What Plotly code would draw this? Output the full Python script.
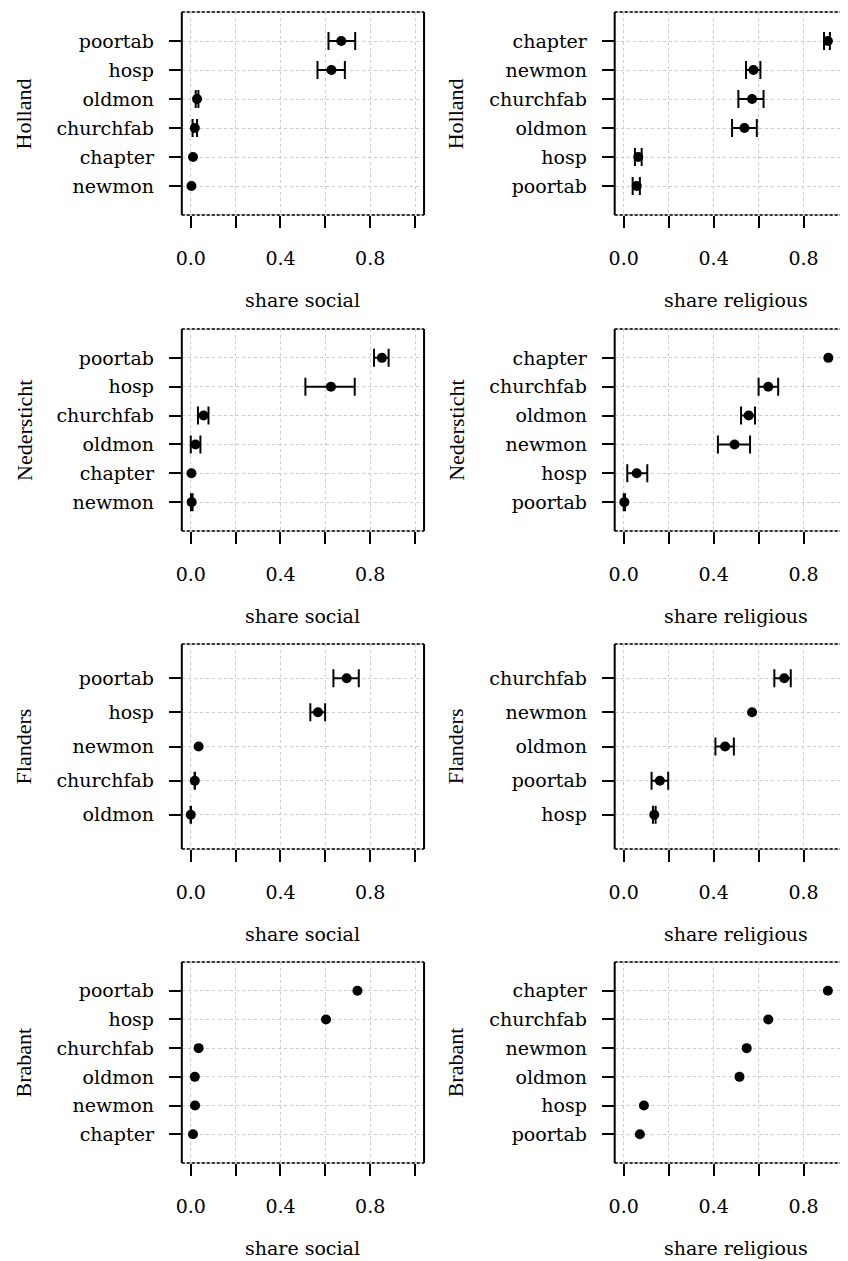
import plotly.graph_objects as go

# categories listed top to bottom, with point estimate and interval ends
# (lo == hi marks a point drawn without an interval)
holland_social_cats = ["poortab", "hosp", "oldmon", "churchfab", "chapter", "newmon"]
holland_social_share = [0.671, 0.627, 0.028, 0.018, 0.010, 0.003]
holland_social_lo = [0.614, 0.565, 0.022, 0.008, 0.010, 0.003]
holland_social_hi = [0.733, 0.687, 0.034, 0.028, 0.010, 0.003]

holland_relig_cats = ["chapter", "newmon", "churchfab", "oldmon", "hosp", "poortab"]
holland_relig_share = [0.908, 0.577, 0.571, 0.537, 0.065, 0.058]
holland_relig_lo = [0.891, 0.544, 0.510, 0.482, 0.050, 0.040]
holland_relig_hi = [0.917, 0.608, 0.622, 0.592, 0.080, 0.072]

nedersticht_social_cats = ["poortab", "hosp", "churchfab", "oldmon", "chapter", "newmon"]
nedersticht_social_share = [0.852, 0.625, 0.057, 0.021, 0.003, 0.004]
nedersticht_social_lo = [0.817, 0.511, 0.032, 0.000, 0.003, 0.001]
nedersticht_social_hi = [0.882, 0.731, 0.079, 0.043, 0.003, 0.008]

nedersticht_relig_cats = ["chapter", "churchfab", "oldmon", "newmon", "hosp", "poortab"]
nedersticht_relig_share = [0.910, 0.643, 0.556, 0.493, 0.058, 0.003]
nedersticht_relig_lo = [0.910, 0.600, 0.522, 0.419, 0.016, 0.000]
nedersticht_relig_hi = [0.910, 0.687, 0.584, 0.562, 0.105, 0.006]

flanders_social_cats = ["poortab", "hosp", "newmon", "churchfab", "oldmon"]
flanders_social_share = [0.695, 0.567, 0.035, 0.018, 0.000]
flanders_social_lo = [0.636, 0.533, 0.035, 0.017, -0.001]
flanders_social_hi = [0.749, 0.599, 0.035, 0.019, 0.001]

flanders_relig_cats = ["churchfab", "newmon", "oldmon", "poortab", "hosp"]
flanders_relig_share = [0.714, 0.571, 0.451, 0.161, 0.136]
flanders_relig_lo = [0.670, 0.571, 0.408, 0.124, 0.130]
flanders_relig_hi = [0.743, 0.571, 0.490, 0.198, 0.142]

brabant_social_cats = ["poortab", "hosp", "churchfab", "oldmon", "newmon", "chapter"]
brabant_social_share = [0.743, 0.603, 0.035, 0.018, 0.019, 0.010]
brabant_social_lo = [0.743, 0.603, 0.035, 0.018, 0.019, 0.010]
brabant_social_hi = [0.743, 0.603, 0.035, 0.018, 0.019, 0.010]

brabant_relig_cats = ["chapter", "churchfab", "newmon", "oldmon", "hosp", "poortab"]
brabant_relig_share = [0.908, 0.643, 0.547, 0.515, 0.090, 0.072]
brabant_relig_lo = [0.908, 0.643, 0.547, 0.515, 0.090, 0.072]
brabant_relig_hi = [0.908, 0.643, 0.547, 0.515, 0.090, 0.072]

regions = ["Holland", "Nedersticht", "Flanders", "Brabant"]
x_titles = ["share social", "share religious"]
x_tickvals = [0.0, 0.2, 0.4, 0.6, 0.8, 1.0]
x_ticktext = ["0.0", "", "0.4", "", "0.8", ""]

panels = [
    (holland_social_cats, holland_social_share, holland_social_lo, holland_social_hi),
    (holland_relig_cats, holland_relig_share, holland_relig_lo, holland_relig_hi),
    (nedersticht_social_cats, nedersticht_social_share, nedersticht_social_lo, nedersticht_social_hi),
    (nedersticht_relig_cats, nedersticht_relig_share, nedersticht_relig_lo, nedersticht_relig_hi),
    (flanders_social_cats, flanders_social_share, flanders_social_lo, flanders_social_hi),
    (flanders_relig_cats, flanders_relig_share, flanders_relig_lo, flanders_relig_hi),
    (brabant_social_cats, brabant_social_share, brabant_social_lo, brabant_social_hi),
    (brabant_relig_cats, brabant_relig_share, brabant_relig_lo, brabant_relig_hi),
]

# page body adds an 8px margin, so the figure is a bit smaller and shifted
OFF = 8
W, H = 848 - OFF, 1261 - OFF
row_px = [(12, 215), (329, 531), (644, 849), (962, 1163)]
col_px = [(177, 421), (613, 848)]
col_range = [[-0.04, 1.04], [-0.04, -0.04 + 235 / 226.5]]

label_font = dict(family="DejaVu Serif", size=19, color="black")
region_font = dict(family="Liberation Serif", size=22, color="black")
grid_col = "#cccccc"

fig = go.Figure()
shapes = []
annotations = []
layout_axes = {}

for i, (cats, share, lo, hi) in enumerate(panels):
    r, c = divmod(i, 2)
    k = i + 1
    xs = "" if k == 1 else str(k)

    # intervals (only where one exists)
    idx = [j for j in range(len(cats)) if hi[j] > lo[j]]
    if idx:
        fig.add_trace(
            go.Scatter(
                x=[share[j] for j in idx],
                y=[cats[j] for j in idx],
                mode="markers",
                marker=dict(color="black", size=1, opacity=0),
                error_x=dict(
                    type="data",
                    symmetric=False,
                    array=[hi[j] - share[j] for j in idx],
                    arrayminus=[share[j] - lo[j] for j in idx],
                    color="black",
                    thickness=2,
                    width=9,
                ),
                xaxis="x" + xs,
                yaxis="y" + xs,
                showlegend=False,
            )
        )
    # points
    fig.add_trace(
        go.Scatter(
            x=share,
            y=cats,
            mode="markers",
            marker=dict(color="black", size=10),
            xaxis="x" + xs,
            yaxis="y" + xs,
            showlegend=False,
        )
    )

    top, bot = (p - OFF for p in row_px[r])
    left, right = (p - OFF for p in col_px[c])
    ydom = [1 - bot / H, 1 - top / H]
    layout_axes["xaxis" + xs] = dict(
        domain=[left / W, min(right / W, 1.0)],
        anchor="y" + xs,
        range=col_range[c],
        tickvals=x_tickvals,
        ticktext=x_ticktext,
        ticks="outside",
        ticklen=12,
        tickwidth=2,
        tickcolor="black",
        ticklabelstandoff=14,
        tickfont=label_font,
        showgrid=True,
        gridcolor=grid_col,
        griddash="3px,3px",
        gridwidth=1,
        zeroline=False,
        showline=False,
    )
    layout_axes["yaxis" + xs] = dict(
        domain=ydom,
        anchor="x" + xs,
        type="category",
        categoryorder="array",
        categoryarray=cats[::-1],
        range=[-1, len(cats)],
        ticks="outside",
        ticklen=12,
        tickwidth=2,
        tickcolor="black",
        ticklabelstandoff=11,
        tickfont=label_font,
        showgrid=True,
        gridcolor=grid_col,
        griddash="3px,3px",
        gridwidth=1,
        zeroline=False,
        showline=False,
    )

    # frame: solid sides, dashed top and bottom
    x0, x1 = left / W, (left + 244) / W
    y0, y1 = ydom
    shapes.append(dict(type="rect", xref="paper", yref="paper", x0=x0, x1=x1, y0=y0, y1=y1,
                       line=dict(color="#b5b5b5", width=1)))
    for yy in (y0, y1):
        shapes.append(dict(type="line", xref="paper", yref="paper", x0=x0, x1=x1, y0=yy, y1=yy,
                           line=dict(color="black", width=1.5, dash="3px,2px")))
    for xx in (x0, x1):
        shapes.append(dict(type="line", xref="paper", yref="paper", x0=xx, x1=xx, y0=y0, y1=y1,
                           line=dict(color="black", width=2)))

    annotations.append(dict(
        text=x_titles[c], xref="paper", yref="paper",
        x=(left + 122) / W, y=1 - (bot + 85) / H,
        showarrow=False, font=label_font, xanchor="center", yanchor="middle",
    ))
    annotations.append(dict(
        text=regions[r], xref="paper", yref="paper",
        x=((18 if c == 0 else 453) - OFF) / W, y=(y0 + y1) / 2,
        showarrow=False, font=region_font, textangle=-90,
        xanchor="center", yanchor="middle",
    ))

fig.update_layout(
    width=W,
    height=H,
    margin=dict(l=0, r=0, t=0, b=0),
    paper_bgcolor="white",
    plot_bgcolor="white",
    shapes=shapes,
    annotations=annotations,
    **layout_axes,
)

fig.write_html("out.html")
